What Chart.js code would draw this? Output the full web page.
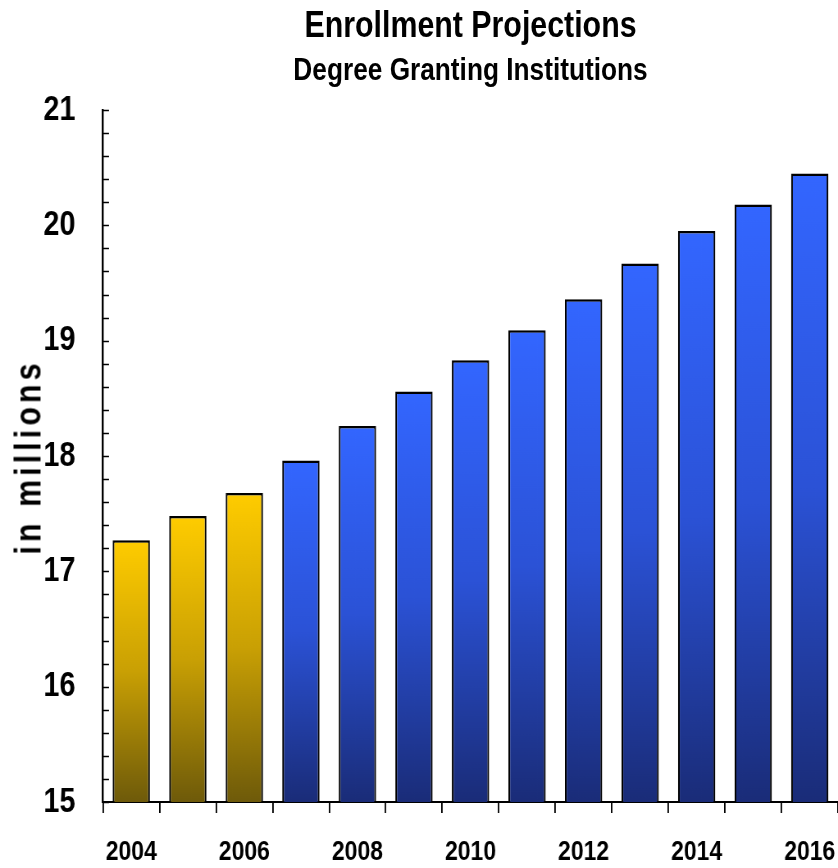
<!DOCTYPE html>
<html>
<head>
<meta charset="utf-8">
<title>Enrollment Projections</title>
<script src="https://cdn.jsdelivr.net/npm/chart.js@4/dist/chart.umd.min.js"></script>
<style>
  html, body { margin: 0; padding: 0; background: #fff; }
  #wrap { position: relative; width: 838px; height: 868px; overflow: hidden; }
  /* the chart is laid out wider and squeezed horizontally so its text reads as a narrow face */
  #squeeze { position: absolute; left: 0; top: 0; transform-origin: 0 0; transform: scaleX(0.81996); }
  .head {
    position: absolute; left: 103px; width: 735px; text-align: center;
    font-family: "Liberation Sans", Arial, sans-serif; font-weight: bold;
    color: #000; line-height: 1; white-space: nowrap;
    transform: scaleX(0.82); transform-origin: 50% 50%;
  }
  #title { top: 6px; font-size: 37px; }
  #subtitle { top: 53px; font-size: 32px; }
  #ytitle {
    position: absolute; left: 28px; top: 457px;
    transform: translate(-50%, -50%) rotate(-90deg) scaleX(0.82);
    font-family: "Liberation Sans", Arial, sans-serif; font-weight: bold;
    font-size: 37px; line-height: 1; letter-spacing: 5px; white-space: nowrap; color: #000;
  }
</style>
</head>
<body>
<div id="wrap">
  <div id="squeeze"><canvas id="chart" width="1022" height="868"></canvas></div>
  <div id="title" class="head">Enrollment Projections</div>
  <div id="subtitle" class="head">Degree Granting Institutions</div>
  <div id="ytitle">in millions</div>
</div>
<script>
// Enrollment in degree granting institutions, millions of students
const years = [2004, 2005, 2006, 2007, 2008, 2009, 2010, 2011, 2012, 2013, 2014, 2015, 2016];
const enrollment = [17.27, 17.48, 17.68, 17.96, 18.26, 18.56, 18.83, 19.09, 19.36, 19.67, 19.95, 20.18, 20.45];
// actual figures vs projections
const kind = ['actual', 'actual', 'actual', 'projected', 'projected', 'projected', 'projected',
              'projected', 'projected', 'projected', 'projected', 'projected', 'projected'];
const yMin = 15;
const yMax = 21;

const SX = 0.81996;            // horizontal squeeze applied to the canvas
const wide = v => v / SX;      // horizontal size in canvas units for a wanted on-screen size
const font = '"Liberation Sans", Arial, sans-serif';

const gradStops = {
  actual:    ['#ffcc00', '#c9a004', '#6e5a0a'],
  projected: ['#3366ff', '#2b52d6', '#1a2c78']
};

// vertical gradient running from the top of each bar down to its base
function barFill(ctx) {
  const chart = ctx.chart;
  if (!chart.chartArea || ctx.type !== 'data') return gradStops.projected[0];
  const y = chart.scales.y;
  const top = y.getPixelForValue(ctx.raw);
  const bottom = y.getPixelForValue(yMin);
  const stops = gradStops[kind[ctx.dataIndex]];
  const g = chart.ctx.createLinearGradient(0, top, 0, bottom);
  g.addColorStop(0, stops[0]);
  g.addColorStop(0.5, stops[1]);
  g.addColorStop(1, stops[2]);
  return g;
}

// short tick marks pointing into the plot from the y axis
const innerTicks = {
  id: 'innerTicks',
  afterDatasetsDraw(chart) {
    const y = chart.scales.y;
    const c = chart.ctx;
    const x0 = chart.chartArea.left;
    c.save();
    c.strokeStyle = '#000';
    c.lineWidth = 1.5;
    y.ticks.forEach(t => {
      const py = Math.round(y.getPixelForValue(t.value)) + 0.5;
      c.beginPath();
      c.moveTo(x0, py);
      c.lineTo(x0 + wide(6), py);
      c.stroke();
    });
    c.restore();
  }
};

new Chart(document.getElementById('chart'), {
  type: 'bar',
  data: {
    labels: years.map(String),
    datasets: [{
      data: enrollment,
      backgroundColor: barFill,
      borderColor: '#000',
      borderWidth: { top: 2.5, left: wide(1.8), right: wide(1.8), bottom: 0 },
      borderSkipped: 'bottom',
      barPercentage: 0.66,
      categoryPercentage: 1
    }]
  },
  options: {
    responsive: false,
    animation: false,
    layout: { padding: { top: 110, right: 0, bottom: 0, left: 0 } },
    plugins: { legend: { display: false }, tooltip: { enabled: false } },
    scales: {
      x: {
        grid: { offset: true, drawOnChartArea: false, drawTicks: true, tickLength: 11, color: '#000', lineWidth: wide(1.5) },
        border: { display: true, color: '#000', width: 2 },
        ticks: {
          autoSkip: false, maxRotation: 0, padding: 22, color: '#000',
          font: { family: font, size: 28, weight: 'bold' },
          callback: (v, i) => (i % 2 === 0 ? String(years[i]) : '')
        },
        afterFit: s => { s.height = 66; s.paddingLeft = 0; s.paddingRight = 0; }
      },
      y: {
        min: yMin,
        max: yMax,
        grid: { display: false },
        border: { display: true, color: '#000', width: wide(2) },
        ticks: {
          stepSize: 0.2, autoSkip: false, padding: wide(21), color: '#000',
          font: { family: font, size: 35, weight: 'bold' },
          callback: v => (Math.abs(v - Math.round(v)) < 1e-6 ? String(Math.round(v)) : '')
        },
        afterFit: s => { s.width = wide(103); }
      }
    }
  },
  plugins: [innerTicks]
});
</script>
</body>
</html>
